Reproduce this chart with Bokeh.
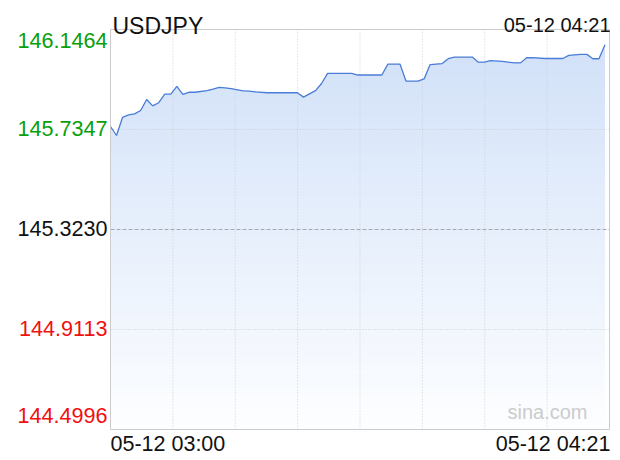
import numpy as np
from bokeh.plotting import figure
from bokeh.models import Range1d
from bokeh.core.properties import value
from bokeh.embed import file_html
from bokeh.resources import INLINE

# ---------------- data ----------------
symbol = "USDJPY"
last_stamp = "05-12 04:21"
times = ["02:59", "03:00", "03:01", "03:02", "03:03", "03:04", "03:05", "03:06",
         "03:07", "03:08", "03:09", "03:10", "03:11", "03:12", "03:13", "03:15",
         "03:16", "03:17", "03:18", "03:19", "03:21", "03:22", "03:23", "03:25",
         "03:30", "03:31", "03:33", "03:34", "03:35", "03:39", "03:40", "03:44",
         "03:45", "03:47", "03:48", "03:50", "03:51", "03:52", "03:54", "03:55",
         "03:56", "03:59", "04:00", "04:01", "04:02", "04:04", "04:06", "04:07",
         "04:08", "04:09", "04:11", "04:14", "04:15", "04:17", "04:18", "04:19",
         "04:20", "04:21"]
prices = [145.747, 145.710, 145.785, 145.795, 145.799, 145.813, 145.858, 145.832,
          145.845, 145.880, 145.880, 145.912, 145.879, 145.888, 145.888, 145.895,
          145.901, 145.908, 145.906, 145.903, 145.894, 145.893, 145.890, 145.886,
          145.886, 145.868, 145.895, 145.924, 145.966, 145.966, 145.959, 145.959,
          146.004, 146.004, 145.934, 145.934, 145.943, 146.002, 146.006, 146.026,
          146.033, 146.033, 146.012, 146.012, 146.018, 146.015, 146.009, 146.009,
          146.030, 146.031, 146.027, 146.027, 146.040, 146.044, 146.044, 146.026,
          146.026, 146.084]
prev_close = 145.3230
y_ticks = [146.1464, 145.7347, 145.3230, 144.9113, 144.4996]
x_labels = ["05-12 03:00", "05-12 04:21"]
watermark = "sina.com"

# ---------------- layout / styles ----------------
W, H = 620, 460
BOX_L, BOX_R, BOX_T, BOX_B = 110, 609, 29, 429
FONT = value("Liberation Sans")
UP, DOWN, FLAT = "#0aa00a", "#f01010", "#111111"
LINE = "#4a7dd8"
GRID = "#cfcfcf"
BORDER = "#cccccc"

mins = np.array([int(t[:2]) * 60 + int(t[3:]) for t in times], dtype=float)
x = mins - mins[0]
y = np.array(prices)
ymin, ymax = y_ticks[-1], y_ticks[0]
xend = x[-1] + 0.75

sx = (BOX_R - BOX_L) / xend
sy = (BOX_B - BOX_T) / (ymax - ymin)
xr = Range1d(0 - BOX_L / sx, xend + (W - BOX_R) / sx)
yr = Range1d(ymin - (H - BOX_B) / sy, ymax + BOX_T / sy)

p = figure(width=W, height=H, output_backend="svg", toolbar_location=None,
           x_range=xr, y_range=yr, x_axis_location=None, y_axis_location=None,
           min_border=0, background_fill_color="white", border_fill_color="white",
           outline_line_color=None)
p.grid.visible = False

# gradient area fill (stacked bands, top colour first)
N = 60
edges = np.linspace(ymin, ymax, N + 1)
top_c = np.array([208, 224, 248])
bot_c = np.array([253, 254, 255])
for k in range(N, 0, -1):
    hi = edges[k]
    t = ((edges[k] + edges[k - 1]) / 2 - ymin) / (ymax - ymin)
    c = bot_c + (top_c - bot_c) * t
    col = "#%02x%02x%02x" % tuple(int(round(v)) for v in c)
    p.varea(x=x, y1=ymin, y2=np.clip(y, ymin, hi), fill_color=col)

# grid lines
vticks = [xend * k / 8 for k in range(1, 8)]
p.segment(x0=vticks, y0=ymin, x1=vticks, y1=ymax, line_color=GRID, line_dash="1 2", line_width=1)
hticks = [y_ticks[1], y_ticks[3]]
p.segment(x0=0, y0=hticks, x1=xend, y1=hticks, line_color=GRID, line_dash="1 2", line_width=1)
p.segment(x0=0, y0=prev_close, x1=xend, y1=prev_close, line_color="#a8a8b0",
          line_dash="4 2", line_width=1)

# price line
p.line(x, y, line_color=LINE, line_width=1.3)

# plot box
p.quad(left=0, right=xend, bottom=ymin, top=ymax, fill_color=None, line_color=BORDER, line_width=1)

# y labels
cols, offs = [], []
for i, v in enumerate(y_ticks):
    cols.append(UP if v > prev_close else (DOWN if v < prev_close else FLAT))
    offs.append(11 if i == 0 else (-14 if i == len(y_ticks) - 1 else -1))
p.text(x=[0] * len(y_ticks), y=y_ticks, text=["%.4f" % v for v in y_ticks],
       x_offset=-3, y_offset=offs, text_align="right", text_baseline="middle",
       text_color=cols, text_font_size="21.6px", text_font=FONT)

# header
p.text(x=[0], y=[ymax], text=[symbol], x_offset=2, y_offset=-4, text_align="left",
       text_baseline="alphabetic", text_font_size="23px", text_font=FONT, text_color="#111111")
p.text(x=[xend], y=[ymax], text=[last_stamp], x_offset=1, y_offset=-5, text_align="right",
       text_baseline="alphabetic", text_font_size="20px", text_font=FONT, text_color="#111111")
# x labels
p.text(x=[0, xend], y=[ymin, ymin], text=x_labels, x_offset=[0, 1], y_offset=14,
       text_align=["left", "right"], text_baseline="middle", text_font_size="21.5px",
       text_font=FONT, text_color="#111111")
# watermark
p.text(x=[xend], y=[ymin], text=[watermark], x_offset=-22, y_offset=-18, text_align="right",
       text_baseline="middle", text_font_size="20px", text_font=FONT, text_color="#cccccc")

open("out.html", "w").write(file_html(p, INLINE))
